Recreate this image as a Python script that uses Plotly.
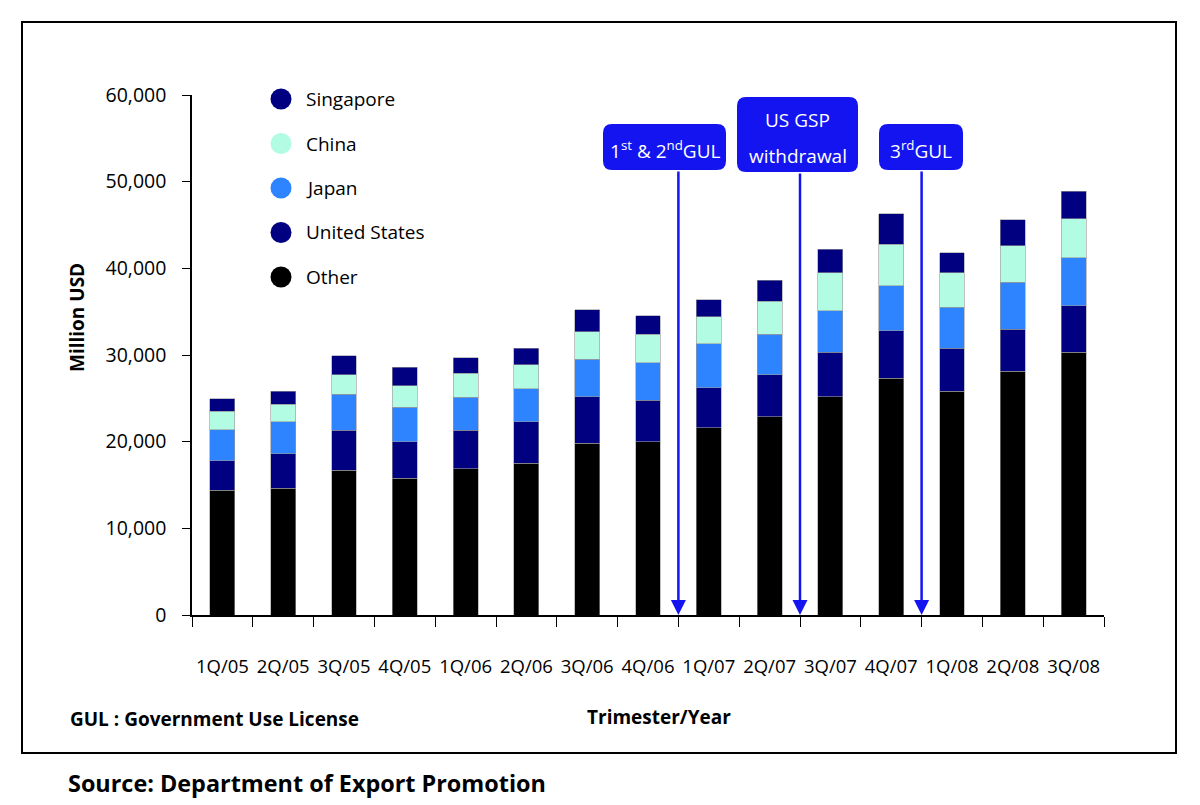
import plotly.graph_objects as go

# Quarterly export values by destination (million USD)
quarters = ["1Q/05", "2Q/05", "3Q/05", "4Q/05", "1Q/06", "2Q/06", "3Q/06", "4Q/06",
            "1Q/07", "2Q/07", "3Q/07", "4Q/07", "1Q/08", "2Q/08", "3Q/08"]
other = [14400, 14600, 16700, 15800, 16900, 17500, 19800, 20000,
         21600, 22900, 25200, 27300, 25800, 28100, 30300]
united_states = [3400, 4000, 4600, 4200, 4400, 4800, 5400, 4800,
                 4600, 4800, 5100, 5500, 5000, 4900, 5400]
japan = [3600, 3700, 4200, 4000, 3800, 3800, 4300, 4300,
         5100, 4700, 4800, 5200, 4700, 5400, 5500]
china = [2100, 2000, 2200, 2450, 2800, 2800, 3200, 3300,
         3100, 3800, 4400, 4800, 4000, 4200, 4500]
singapore = [1450, 1500, 2200, 2150, 1800, 1900, 2500, 2150,
             2000, 2400, 2700, 3500, 2300, 3000, 3200]

# Events: text and the quarter after which they happened
event_texts = ["1<sup>st</sup> & 2<sup>nd</sup>GUL", "US GSP<br>withdrawal", "3<sup>rd</sup>GUL"]
event_after = ["4Q/06", "2Q/07", "4Q/07"]

# page has an 8px body margin, so the figure is drawn 8px smaller
W, H = 1192, 797
OFF = 8
L, R, T, B = 192, 1104, 95, 615   # plot area in page pixels
FONT = "Open Sans"
BLUE = "#1414F0"


def px(x):
    return (x - L) / (R - L)


def py(y):
    return (B - y) / (B - T)


def rounded_rect(x0, y0, x1, y1, r):
    # pixel coords -> paper path with rounded corners
    X0, X1 = px(x0), px(x1)
    Y0, Y1 = py(y0), py(y1)
    rx = r / (R - L)
    ry = r / (B - T)
    return (f"M {X0 + rx},{Y0} L {X1 - rx},{Y0} Q {X1},{Y0} {X1},{Y0 - ry} "
            f"L {X1},{Y1 + ry} Q {X1},{Y1} {X1 - rx},{Y1} "
            f"L {X0 + rx},{Y1} Q {X0},{Y1} {X0},{Y1 + ry} "
            f"L {X0},{Y0 - ry} Q {X0},{Y0} {X0 + rx},{Y0} Z")


def label(x, y, text, size, color="black", **kw):
    d = dict(xref="paper", yref="paper", x=px(x), y=py(y), text=text,
             showarrow=False, xanchor="center", yanchor="middle",
             font=dict(family=FONT, size=size, color=color))
    d.update(kw)
    return d


series = [
    ("Other", other, "#000000"),
    ("United States", united_states, "#000080"),
    ("Japan", japan, "#2E84FF"),
    ("China", china, "#B2FCE4"),
    ("Singapore", singapore, "#000080"),
]

fig = go.Figure()
for name, vals, color in series:
    fig.add_trace(go.Bar(
        x=quarters, y=vals, name=name,
        marker=dict(color=color, line=dict(width=0.6, color="#9a9a9a")),
        showlegend=False
    ))

shapes = [dict(type="rect", xref="paper", yref="paper",
               x0=px(22), y0=py(22), x1=px(1176), y1=py(753),
               line=dict(color="black", width=2))]
annotations = []

# Legend drawn by hand: round markers, top-down order
for i, (name, vals, color) in enumerate(reversed(series)):
    yc = 99 + i * 44.5
    shapes.append(dict(type="circle", xref="paper", yref="paper",
                       x0=px(270.5), x1=px(291.5), y0=py(yc + 10.5), y1=py(yc - 10.5),
                       fillcolor=color, line=dict(width=0)))
    annotations.append(label(304, yc, name, 19, xanchor="left"))

boxes = [(603, 124, 726, 170), (737, 97, 858, 172), (879, 124, 963, 170)]
for text, after, (x0, y0, x1, y1) in zip(event_texts, event_after, boxes):
    pos = quarters.index(after) + 0.5
    shapes.append(dict(type="path", xref="paper", yref="paper",
                       path=rounded_rect(x0, y0, x1, y1, 9),
                       fillcolor=BLUE, line=dict(width=0)))
    lines = text.split("<br>")
    gap = 36
    ymid = (y0 + y1) / 2 + 3
    for k, line in enumerate(lines):
        yl = ymid + (k - (len(lines) - 1) / 2) * gap
        annotations.append(label((x0 + x1) / 2, yl, line, 19, color="white"))
    annotations.append(dict(x=pos, y=0, xref="x", yref="y",
                            ax=pos, ay=py(y1) * 60000, axref="x", ayref="y",
                            text="", showarrow=True, arrowhead=2, arrowsize=1.2,
                            arrowwidth=2.5, arrowcolor=BLUE))

annotations += [
    label(77, 318, "<b>Million USD</b>", 19, textangle=-90),
    label(659, 717, "<b>Trimester/Year</b>", 19),
    label(68, 719, "<b>GUL : Government Use License</b>", 19, xanchor="left"),
    label(66, 783, "<b>Source: Department of Export Promotion</b>", 23.4, xanchor="left"),
]

fig.update_layout(
    width=W, height=H,
    margin=dict(l=L - OFF, r=W - (R - OFF), t=T - OFF, b=H - (B - OFF), pad=0),
    paper_bgcolor="white", plot_bgcolor="rgba(0,0,0,0)",
    barmode="stack", bargap=0.59, showlegend=False,
    font=dict(family=FONT, size=18, color="black"),
    shapes=shapes, annotations=annotations,
    xaxis=dict(type="category", range=[-0.5, len(quarters) - 0.5],
               showline=True, linecolor="black", linewidth=1.5,
               ticks="outside", tickson="boundaries", ticklen=10, tickcolor="black",
               ticklabelstandoff=34, showgrid=False, tickangle=0,
               tickfont=dict(size=18.5)),
    yaxis=dict(range=[0, 60000], dtick=10000, tickformat=",",
               showline=True, linecolor="black", linewidth=1.5,
               ticks="outside", ticklen=8, tickcolor="black",
               ticklabelstandoff=12, showgrid=False, zeroline=False,
               tickfont=dict(size=19.5)),
)

fig.write_html("out.html")
